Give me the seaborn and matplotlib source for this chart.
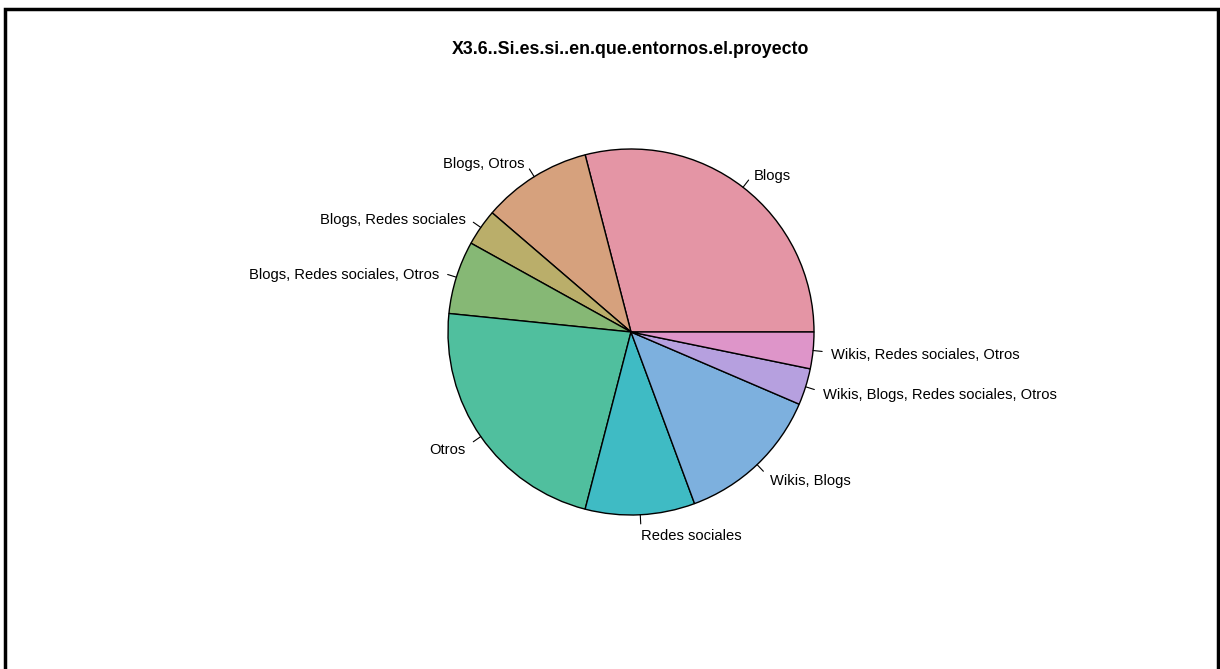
import numpy as np
import seaborn as sns
import matplotlib.pyplot as plt
from matplotlib.patches import Rectangle

# answers and counts (counter-clockwise from 3 o'clock)
categories = ['Blogs', 'Blogs, Otros', 'Blogs, Redes sociales',
              'Blogs, Redes sociales, Otros', 'Otros', 'Redes sociales',
              'Wikis, Blogs', 'Wikis, Blogs, Redes sociales, Otros',
              'Wikis, Redes sociales, Otros']
counts = [9, 3, 1, 2, 7, 3, 4, 1, 1]
slice_colors = ['#E495A5', '#D6A17D', '#BAAE6A', '#86B875', '#50BF9E',
                '#3FBBC4', '#7DB0DE', '#B6A0DF', '#DE95C9']
title = 'X3.6..Si.es.si..en.que.entornos.el.proyecto'

sns.set_theme(style='white')
plt.rcParams['font.family'] = ['Liberation Sans', 'DejaVu Sans']

W, H = 1220, 669
fig = plt.figure(figsize=(W / 100, H / 100), dpi=100)
ax = fig.add_axes([0, 0, 1, 1])

cx, cy, r = 631, H - 332, 183
palette = sns.color_palette(slice_colors)
wedges, _ = ax.pie(counts, colors=palette, startangle=0, counterclock=True,
                   center=(cx, cy), radius=r, frame=True,
                   wedgeprops=dict(edgecolor='black', linewidth=1.0))
ax.set_xlim(0, W)
ax.set_ylim(0, H)
ax.set_aspect('equal')
ax.set_axis_off()

# labels with small tick marks, like R's pie()
for w, lab in zip(wedges, categories):
    mid = np.deg2rad((w.theta1 + w.theta2) / 2)
    c, s = np.cos(mid), np.sin(mid)
    ax.plot([cx + r * c, cx + 1.05 * r * c], [cy + r * s, cy + 1.05 * r * s],
            color='black', lw=0.8)
    ax.text(cx + 1.1 * r * c, cy + 1.1 * r * s - 3, lab,
            ha='left' if c > 0 else 'right', va='center',
            fontsize=10.6, color='black')

ax.text(cx, H - 50, title, ha='center', va='center',
        fontsize=12.8, fontweight='bold', color='black')

fig.add_artist(Rectangle((5 / W, -0.05), 1213 / W, 1.05 - 9 / H,
                         transform=fig.transFigure, fill=False,
                         edgecolor='black', lw=2.5))

fig.savefig('out.png', dpi=100)
